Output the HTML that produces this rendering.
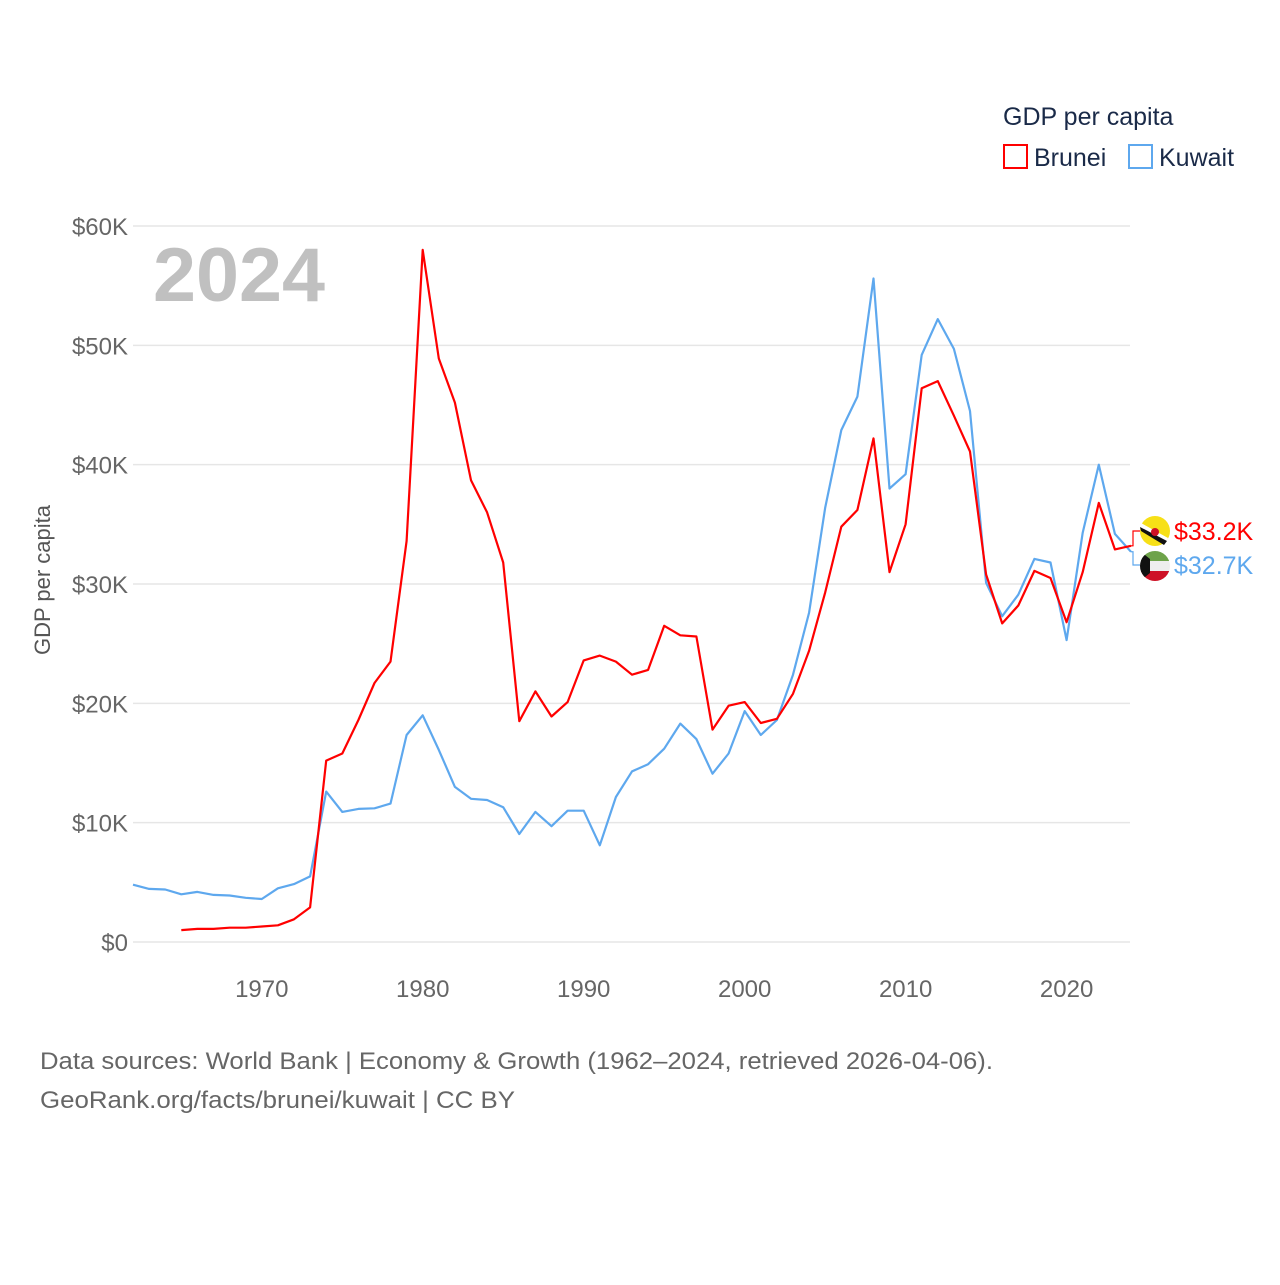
<!DOCTYPE html>
<html><head><meta charset="utf-8"><style>
html,body{margin:0;padding:0;background:#fff;}
body{width:1280px;height:1280px;overflow:hidden;font-family:"Liberation Sans",sans-serif;}
text{font-family:"Liberation Sans",sans-serif;}
</style></head><body>
<svg id="chart" width="1280" height="1280" viewBox="0 0 1280 1280" xmlns="http://www.w3.org/2000/svg">
<text x="1003" y="125" font-size="25" fill="#1a2a48">GDP per capita</text>
<g>
<rect x="1004" y="145" width="23" height="23" fill="none" stroke="#ff0000" stroke-width="2"/>
<text x="1034" y="166" font-size="25" fill="#1a2a48">Brunei</text></g>
<g>
<rect x="1129" y="145" width="23" height="23" fill="none" stroke="#5ea8ee" stroke-width="2"/>
<text x="1159" y="166" font-size="25" fill="#1a2a48">Kuwait</text></g>
<text x="153" y="301" font-size="76" font-weight="bold" fill="#c0c0c0" textLength="172" lengthAdjust="spacingAndGlyphs">2024</text>
<text transform="translate(50,580) rotate(-90)" text-anchor="middle" font-size="22" fill="#555">GDP per capita</text>
<g id="grid"></g><g id="series"></g><g id="labels"></g>
<text x="40" y="1069" font-size="24" fill="#666" textLength="953" lengthAdjust="spacingAndGlyphs">Data sources: World Bank | Economy &amp; Growth (1962–2024, retrieved 2026-04-06).</text>
<text x="40" y="1108" font-size="24" fill="#666" textLength="475" lengthAdjust="spacingAndGlyphs">GeoRank.org/facts/brunei/kuwait | CC BY</text>
</svg>
<script>
const yTicks=[0,10,20,30,40,50,60];
const yTickLabels=["$0","$10K","$20K","$30K","$40K","$50K","$60K"];
const xTicks=[1970,1980,1990,2000,2010,2020];
const kuwaitStart=1962;
const kuwait=[4.8,4.45,4.4,4.0,4.2,3.95,3.9,3.7,3.6,4.5,4.85,5.5,12.6,10.9,11.15,11.2,11.6,17.35,19.0,16.1,13.0,12.0,11.9,11.3,9.05,10.9,9.7,11.0,11.0,8.1,12.15,14.3,14.9,16.2,18.3,17.0,14.1,15.8,19.35,17.35,18.6,22.4,27.6,36.4,42.9,45.7,55.6,38.0,39.2,49.2,52.2,49.7,44.5,30.1,27.3,29.1,32.1,31.8,25.3,34.3,40.0,34.2,32.7];
const bruneiStart=1965;
const brunei=[1.0,1.1,1.1,1.2,1.2,1.3,1.4,1.9,2.9,15.2,15.8,18.6,21.7,23.5,33.6,58.0,48.9,45.2,38.7,36.0,31.8,18.5,21.0,18.9,20.1,23.6,24.0,23.5,22.4,22.8,26.5,25.7,25.6,17.8,19.8,20.1,18.35,18.7,20.8,24.4,29.3,34.8,36.2,42.2,31.0,35.0,46.4,47.0,44.1,41.1,30.8,26.7,28.2,31.1,30.5,26.8,31.0,36.8,32.9,33.2];
const endLabels=["$33.2K","$32.7K"];
const NS="http://www.w3.org/2000/svg";
const X0=133,X1=1131,Y0=942,Y60=226;
const xs=yr=>X0+(yr-1962)*(X1-X0)/(2024-1962);
const ys=v=>Y0-v*(Y0-Y60)/60;
function mk(tag,attrs,parent){const e=document.createElementNS(NS,tag);for(const k in attrs)e.setAttribute(k,attrs[k]);parent.appendChild(e);return e;}
const grid=document.getElementById('grid');
yTicks.forEach((t,i)=>{
 const l=mk('line',{x1:133,x2:1130,y1:ys(t),y2:ys(t),stroke:'#e6e6e6','stroke-width':1.5},grid);
 
 
 const tx=mk('text',{x:128,y:ys(t)+9,'text-anchor':'end','font-size':24,fill:'#666'},grid);
 tx.textContent=yTickLabels[i];
 
 
});
xTicks.forEach(t=>{
 const tx=mk('text',{x:xs(t),y:997,'text-anchor':'middle','font-size':24,fill:'#666'},grid);
 tx.textContent=t;
 
 
});
const ser=document.getElementById('series');
function line(vals,start,color,name){
 const d=vals.map((v,i)=>(i?'L':'M')+xs(start+i).toFixed(1)+','+ys(v).toFixed(1)).join('');
 const p=mk('path',{d:d,fill:'none',stroke:color,'stroke-width':2.2,'stroke-linejoin':'round'},ser);
 
 
}
line(kuwait,kuwaitStart,'#5ea8ee','kuwait-line');
line(brunei,bruneiStart,'#ff0000','brunei-line');
const lab=document.getElementById('labels');
const lastB=brunei[brunei.length-1],lastK=kuwait[kuwait.length-1];
const lx=xs(2024);
const cs=[[ys(lastB),531,'#ff0000',endLabels[0],'brunei'],[ys(lastK),565,'#5ea8ee',endLabels[1],'kuwait']];
cs.forEach(c=>{
 const p=mk('path',{d:`M${lx},${c[0]}H${lx+2}V${c[1]}H${lx+9}`,fill:'none',stroke:c[2],'stroke-width':1.2},lab);
 
 
 const t=mk('text',{x:1174,y:c[1]+9,'font-size':25,fill:c[2]},lab);
 t.textContent=c[3];
 
 
});
const fb=mk('g',{},lab);


mk('circle',{cx:1155,cy:531,r:15,fill:'#f7e017'},fb);
mk('path',{d:'M1141,523 L1168,538 L1166,543 L1140,528Z',fill:'#fff'},fb);
mk('path',{d:'M1140,527 L1167,541 L1164,545 L1141,531Z',fill:'#111'},fb);
mk('circle',{cx:1155,cy:532,r:4,fill:'#cf1126'},fb);
const fk=mk('g',{},lab);


mk('clipPath',{id:'kc'},fk).appendChild(document.createElementNS(NS,'circle'));
const cc=fk.querySelector('clipPath circle');cc.setAttribute('cx',1155);cc.setAttribute('cy',566);cc.setAttribute('r',15);
const gk=mk('g',{'clip-path':'url(#kc)'},fk);
mk('rect',{x:1140,y:551,width:30,height:10,fill:'#6ea34a'},gk);
mk('rect',{x:1140,y:561,width:30,height:10,fill:'#eee'},gk);
mk('rect',{x:1140,y:571,width:30,height:10,fill:'#ce1126'},gk);
mk('path',{d:'M1140,551 L1150,559 L1150,573 L1140,581Z',fill:'#111'},gk);
</script>
</body></html>
